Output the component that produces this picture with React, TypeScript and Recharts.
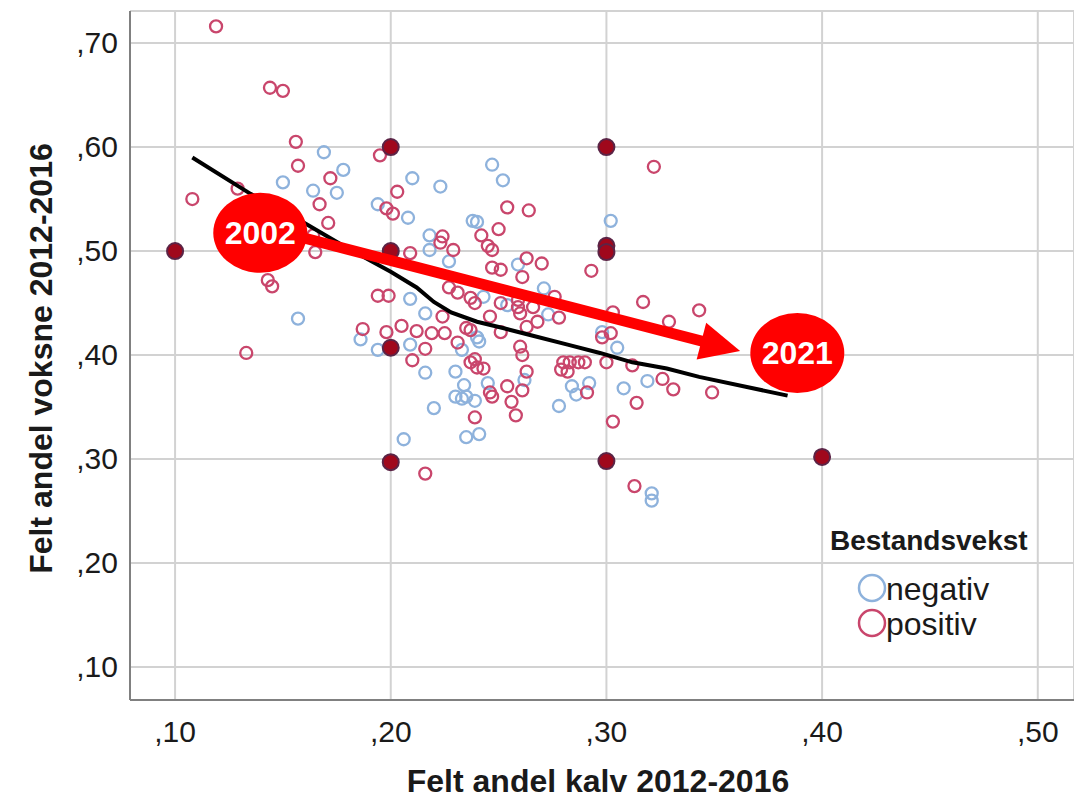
import { ScatterChart, Scatter, XAxis, YAxis, CartesianGrid, Legend, ReferenceDot, ReferenceLine, Label } from 'recharts';

const FONT = '"Liberation Sans", Arial, sans-serif';
const BLUE = '#8eb2dc';
const RED = '#c9466c';

const X_DOMAIN = [0.0791, 0.5168];
const Y_DOMAIN = [0.0683, 0.7308];
const X_TICKS = [0.1, 0.2, 0.3, 0.4, 0.5];
const Y_TICKS = [0.1, 0.2, 0.3, 0.4, 0.5, 0.6, 0.7];

// Bestandsvekst negativ
const NEGATIV: [number, number][] = [
    [0.169, 0.595], [0.178, 0.578], [0.150, 0.566], [0.210, 0.570], [0.223, 0.562], [0.164, 0.558],
    [0.175, 0.556], [0.194, 0.545], [0.208, 0.532], [0.218, 0.515], [0.157, 0.435], [0.209, 0.454],
    [0.216, 0.440], [0.186, 0.415], [0.194, 0.405], [0.209, 0.410], [0.216, 0.383], [0.220, 0.349],
    [0.206, 0.319], [0.247, 0.583], [0.252, 0.568], [0.238, 0.529], [0.240, 0.528], [0.218, 0.501],
    [0.227, 0.490], [0.259, 0.487], [0.302, 0.529], [0.271, 0.464], [0.243, 0.456], [0.298, 0.422],
    [0.305, 0.407], [0.241, 0.413], [0.240, 0.417], [0.233, 0.405], [0.230, 0.384], [0.234, 0.371],
    [0.245, 0.373], [0.230, 0.360], [0.233, 0.358], [0.235, 0.360], [0.239, 0.356], [0.262, 0.376],
    [0.241, 0.324], [0.235, 0.321], [0.278, 0.351], [0.284, 0.370], [0.286, 0.362], [0.292, 0.373],
    [0.308, 0.368], [0.319, 0.375], [0.321, 0.267], [0.321, 0.260], [0.273, 0.439], [0.254, 0.448],
];

// Bestandsvekst positiv
const POSITIV: [number, number][] = [
    [0.119, 0.716], [0.144, 0.657], [0.150, 0.654], [0.156, 0.605], [0.195, 0.592], [0.157, 0.582],
    [0.172, 0.570], [0.129, 0.560], [0.203, 0.557], [0.108, 0.550], [0.167, 0.545], [0.198, 0.541],
    [0.201, 0.536], [0.171, 0.527], [0.224, 0.514], [0.209, 0.498], [0.165, 0.499], [0.164, 0.515],
    [0.143, 0.472], [0.145, 0.466], [0.194, 0.457], [0.199, 0.457], [0.224, 0.437], [0.187, 0.425],
    [0.205, 0.428], [0.198, 0.422], [0.212, 0.423], [0.219, 0.421], [0.225, 0.421], [0.216, 0.406],
    [0.133, 0.402], [0.210, 0.395], [0.216, 0.286], [0.254, 0.542], [0.264, 0.539], [0.250, 0.521],
    [0.242, 0.515], [0.245, 0.505], [0.247, 0.501], [0.247, 0.484], [0.251, 0.482], [0.263, 0.493],
    [0.223, 0.508], [0.229, 0.501], [0.227, 0.465], [0.231, 0.460], [0.237, 0.455], [0.239, 0.450],
    [0.251, 0.450], [0.259, 0.453], [0.261, 0.475], [0.322, 0.581], [0.270, 0.488], [0.293, 0.481],
    [0.259, 0.446], [0.266, 0.446], [0.276, 0.456], [0.317, 0.451], [0.343, 0.443], [0.303, 0.441],
    [0.246, 0.437], [0.260, 0.440], [0.278, 0.436], [0.329, 0.432], [0.235, 0.426], [0.237, 0.424],
    [0.251, 0.422], [0.263, 0.427], [0.268, 0.432], [0.298, 0.417], [0.302, 0.421], [0.231, 0.412],
    [0.260, 0.408], [0.261, 0.400], [0.237, 0.393], [0.240, 0.388], [0.243, 0.387], [0.239, 0.396],
    [0.246, 0.364], [0.247, 0.360], [0.254, 0.370], [0.256, 0.355], [0.261, 0.366], [0.258, 0.342],
    [0.239, 0.340], [0.263, 0.384], [0.291, 0.364], [0.280, 0.393], [0.283, 0.393], [0.287, 0.393],
    [0.290, 0.393], [0.279, 0.386], [0.282, 0.384], [0.300, 0.393], [0.312, 0.390], [0.326, 0.377],
    [0.331, 0.367], [0.314, 0.354], [0.349, 0.364], [0.303, 0.336], [0.313, 0.274],
];

// overlapping cases (both groups) drawn filled
const OVERLAP: [number, number][] = [
    [0.10, 0.500], [0.20, 0.600], [0.20, 0.500], [0.20, 0.407], [0.20, 0.297],
    [0.30, 0.600], [0.30, 0.505], [0.30, 0.499], [0.30, 0.298], [0.40, 0.302],
];

// loess fit line
const LOESS: [number, number][] = [
    [0.108, 0.590], [0.135, 0.555], [0.160, 0.527], [0.178, 0.505], [0.200, 0.480], [0.212, 0.465],
    [0.220, 0.451], [0.228, 0.441], [0.240, 0.432], [0.252, 0.426], [0.265, 0.419], [0.282, 0.410],
    [0.297, 0.402], [0.312, 0.393], [0.328, 0.387], [0.343, 0.379], [0.384, 0.361],
];

// annotation: trend 2002 -> 2021
const ARROW_FROM = { x: 0.158, y: 0.5135 };
const ARROW_TO = { x: 0.362, y: 0.4038 };
const BUBBLES = [
    { label: '2002', x: 0.1395, y: 0.5175 },
    { label: '2021', x: 0.3885, y: 0.402 },
];

const toPoints = (arr: [number, number][]) => arr.map(([x, y]) => ({ x, y }));

const fmt = (v: number) => ',' + Math.round(v * 100);

function YTick(props: any) {
    const { x, y, payload } = props;
    return (
        <text x={x - 4} y={y + 10} textAnchor="end" fontSize={30} fontFamily={FONT} fill="#1a1a1a">
            {fmt(payload.value)}
        </text>
    );
}

function XTick(props: any) {
    const { x, y, payload } = props;
    return (
        <text x={x} y={y + 34} textAnchor="middle" fontSize={30} fontFamily={FONT} fill="#1a1a1a">
            {fmt(payload.value)}
        </text>
    );
}

function YTitle(props: any) {
    const { viewBox } = props;
    const cy = viewBox.y + viewBox.height / 2 + 3;
    return (
        <text transform={`translate(52, ${cy}) rotate(-90)`} textAnchor="middle" fontSize={32}
            fontWeight="bold" fontFamily={FONT} fill="#1a1a1a">
            Felt andel voksne 2012-2016
        </text>
    );
}

const hollow = (color: string) => (p: any) => (
    <circle cx={p.cx} cy={p.cy} r={6} fill="none" stroke={color} strokeWidth={2.3} />
);

const filled = (p: any) => (
    <circle cx={p.cx} cy={p.cy} r={8} fill="#a0081c" stroke="#5b2446" strokeWidth={2} />
);

function Arrow(props: any) {
    const { x1, y1, x2, y2 } = props;
    const dx = x2 - x1, dy = y2 - y1;
    const len = Math.sqrt(dx * dx + dy * dy);
    const ux = dx / len, uy = dy / len;
    const head = 40, half = 19;
    const bx = x2 - ux * head, by = y2 - uy * head;
    return (
        <g>
            <line x1={x1} y1={y1} x2={bx + ux * 2} y2={by + uy * 2} stroke="#ff0000" strokeWidth={11} />
            <polygon
                points={`${x2},${y2} ${bx - uy * half},${by + ux * half} ${bx + uy * half},${by - ux * half}`}
                fill="#ff0000"
            />
        </g>
    );
}

const bubble = (label: string) => (p: any) => (
    <g>
        <ellipse cx={p.cx} cy={p.cy} rx={47} ry={40} fill="#ff0000" />
        <text x={p.cx} y={p.cy + 11} textAnchor="middle" fontSize={32} fontWeight="bold" fontFamily={FONT} fill="#fff">
            {label}
        </text>
    </g>
);

function LegendBox() {
    return (
        <svg width={250} height={140} style={{ fontFamily: FONT }}>
            <text x={4} y={30} fontSize={28} fontWeight="bold" fill="#1a1a1a">Bestandsvekst</text>
            <circle cx={46} cy={68} r={13} fill="none" stroke={BLUE} strokeWidth={2.5} />
            <text x={60} y={80} fontSize={32} fill="#1a1a1a">negativ</text>
            <circle cx={46} cy={103} r={13} fill="none" stroke={RED} strokeWidth={2.5} />
            <text x={60} y={115} fontSize={32} fill="#1a1a1a">positiv</text>
        </svg>
    );
}

export default function App() {
    return (
        <div style={{ position: 'absolute', left: 0, top: 0, width: 1074, height: 802, background: '#fff' }}>
            <ScatterChart width={1074} height={802} margin={{ top: 11, right: 0, bottom: 0, left: 0 }}>
                <CartesianGrid stroke="#d2d2d2" strokeWidth={2} />
                <XAxis
                    type="number" dataKey="x" domain={X_DOMAIN} allowDataOverflow
                    ticks={X_TICKS} tick={<XTick />} tickLine={false} height={102}
                    axisLine={{ stroke: '#808080', strokeWidth: 2 }}
                >
                    <Label value="Felt andel kalv 2012-2016" position="insideBottom" offset={10} dx={-4}
                        style={{ fontSize: 32, fontWeight: 'bold', fontFamily: FONT, fill: '#1a1a1a' }} />
                </XAxis>
                <YAxis
                    type="number" dataKey="y" domain={Y_DOMAIN} allowDataOverflow
                    ticks={Y_TICKS} tick={<YTick />} tickLine={false} width={130}
                    axisLine={{ stroke: '#808080', strokeWidth: 2 }}
                >
                    <Label content={<YTitle />} />
                </YAxis>
                <Legend content={<LegendBox />} layout="vertical" align="center" verticalAlign="middle"
                    wrapperStyle={{ left: 826, top: 520, width: 250 }} />
                <Scatter name="negativ" data={toPoints(NEGATIV)} shape={hollow(BLUE)} isAnimationActive={false} />
                <Scatter name="positiv" data={toPoints(POSITIV)} shape={hollow(RED)} isAnimationActive={false} />
                <Scatter name="loess" data={toPoints(LOESS)} shape={() => <g />} line={{ stroke: '#000', strokeWidth: 4 }}
                    isAnimationActive={false} legendType="none" />
                <Scatter name="overlap" data={toPoints(OVERLAP)} shape={filled} isAnimationActive={false} legendType="none" />
            </ScatterChart>

            {/* annotation layer on top, same scales */}
            <div style={{ position: 'absolute', left: 0, top: 0, pointerEvents: 'none' }}>
                <ScatterChart width={1074} height={802} margin={{ top: 11, right: 0, bottom: 102, left: 130 }}>
                    <XAxis type="number" dataKey="x" domain={X_DOMAIN} allowDataOverflow hide />
                    <YAxis type="number" dataKey="y" domain={Y_DOMAIN} allowDataOverflow hide />
                    <ReferenceLine segment={[ARROW_FROM, ARROW_TO]} shape={<Arrow />} ifOverflow="visible" />
                    {BUBBLES.map(b => (
                        <ReferenceDot key={b.label} x={b.x} y={b.y} shape={bubble(b.label)} ifOverflow="visible" />
                    ))}
                </ScatterChart>
            </div>
        </div>
    );
}
